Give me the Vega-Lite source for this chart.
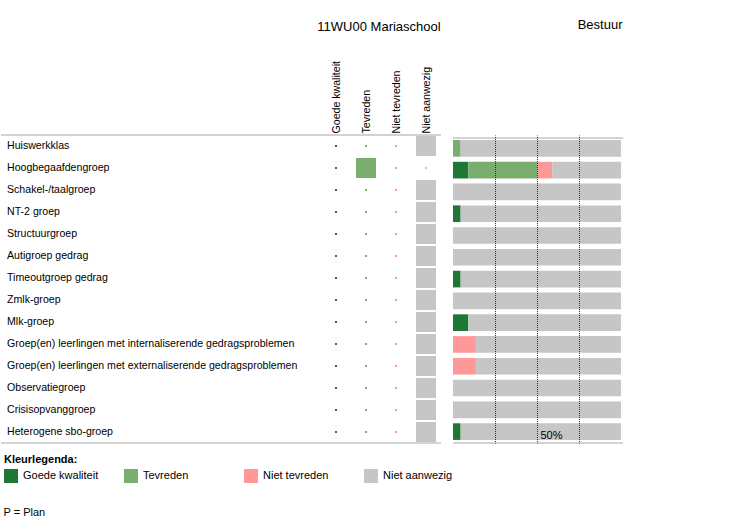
{
  "$schema": "https://vega.github.io/schema/vega-lite/v6.json",
  "padding": {"left": 0, "top": 19, "right": 0, "bottom": 0},
  "config": {
    "font": "Liberation Sans",
    "view": {"stroke": null},
    "title": {"fontSize": 13, "fontWeight": "normal", "color": "black", "font": "Liberation Sans"},
    "legend": {
      "orient": "none", "legendX": 3, "legendY": 319, "direction": "horizontal", "columns": 4,
      "gridAlign": "all", "columnPadding": 25, "padding": 0,
      "symbolType": "square", "symbolSize": 196, "symbolStrokeWidth": 0, "symbolOpacity": 1,
      "labelFontSize": 11, "labelColor": "black", "labelOffset": 5, "labelFont": "Liberation Sans",
      "titleFontSize": 11, "titleFontWeight": "bold", "titleColor": "black", "titlePadding": 4, "titleFont": "Liberation Sans"
    }
  },
  "title": {"text": "P = Plan", "orient": "bottom", "anchor": "start", "fontSize": 11, "offset": 24, "dx": 3},
  "datasets": {
    "oordelen": [
      {"oordeel": "Goede kwaliteit", "volgorde": 1},
      {"oordeel": "Tevreden", "volgorde": 2},
      {"oordeel": "Niet tevreden", "volgorde": 3},
      {"oordeel": "Niet aanwezig", "volgorde": 4}
    ],
    "groepen": [
      {"groep": "Huiswerkklas"},
      {"groep": "Hoogbegaafdengroep"},
      {"groep": "Schakel-/taalgroep"},
      {"groep": "NT-2 groep"},
      {"groep": "Structuurgroep"},
      {"groep": "Autigroep gedrag"},
      {"groep": "Timeoutgroep gedrag"},
      {"groep": "Zmlk-groep"},
      {"groep": "Mlk-groep"},
      {"groep": "Groep(en) leerlingen met internaliserende gedragsproblemen"},
      {"groep": "Groep(en) leerlingen met externaliserende gedragsproblemen"},
      {"groep": "Observatiegroep"},
      {"groep": "Crisisopvanggroep"},
      {"groep": "Heterogene sbo-groep"}
    ],
    "school": [
      {"groep": "Huiswerkklas", "oordeel": "Goede kwaliteit", "waarde": 0},
      {"groep": "Huiswerkklas", "oordeel": "Tevreden", "waarde": 0},
      {"groep": "Huiswerkklas", "oordeel": "Niet tevreden", "waarde": 0},
      {"groep": "Huiswerkklas", "oordeel": "Niet aanwezig", "waarde": 1},
      {"groep": "Hoogbegaafdengroep", "oordeel": "Goede kwaliteit", "waarde": 0},
      {"groep": "Hoogbegaafdengroep", "oordeel": "Tevreden", "waarde": 1},
      {"groep": "Hoogbegaafdengroep", "oordeel": "Niet tevreden", "waarde": 0},
      {"groep": "Hoogbegaafdengroep", "oordeel": "Niet aanwezig", "waarde": 0},
      {"groep": "Schakel-/taalgroep", "oordeel": "Goede kwaliteit", "waarde": 0},
      {"groep": "Schakel-/taalgroep", "oordeel": "Tevreden", "waarde": 0},
      {"groep": "Schakel-/taalgroep", "oordeel": "Niet tevreden", "waarde": 0},
      {"groep": "Schakel-/taalgroep", "oordeel": "Niet aanwezig", "waarde": 1},
      {"groep": "NT-2 groep", "oordeel": "Goede kwaliteit", "waarde": 0},
      {"groep": "NT-2 groep", "oordeel": "Tevreden", "waarde": 0},
      {"groep": "NT-2 groep", "oordeel": "Niet tevreden", "waarde": 0},
      {"groep": "NT-2 groep", "oordeel": "Niet aanwezig", "waarde": 1},
      {"groep": "Structuurgroep", "oordeel": "Goede kwaliteit", "waarde": 0},
      {"groep": "Structuurgroep", "oordeel": "Tevreden", "waarde": 0},
      {"groep": "Structuurgroep", "oordeel": "Niet tevreden", "waarde": 0},
      {"groep": "Structuurgroep", "oordeel": "Niet aanwezig", "waarde": 1},
      {"groep": "Autigroep gedrag", "oordeel": "Goede kwaliteit", "waarde": 0},
      {"groep": "Autigroep gedrag", "oordeel": "Tevreden", "waarde": 0},
      {"groep": "Autigroep gedrag", "oordeel": "Niet tevreden", "waarde": 0},
      {"groep": "Autigroep gedrag", "oordeel": "Niet aanwezig", "waarde": 1},
      {"groep": "Timeoutgroep gedrag", "oordeel": "Goede kwaliteit", "waarde": 0},
      {"groep": "Timeoutgroep gedrag", "oordeel": "Tevreden", "waarde": 0},
      {"groep": "Timeoutgroep gedrag", "oordeel": "Niet tevreden", "waarde": 0},
      {"groep": "Timeoutgroep gedrag", "oordeel": "Niet aanwezig", "waarde": 1},
      {"groep": "Zmlk-groep", "oordeel": "Goede kwaliteit", "waarde": 0},
      {"groep": "Zmlk-groep", "oordeel": "Tevreden", "waarde": 0},
      {"groep": "Zmlk-groep", "oordeel": "Niet tevreden", "waarde": 0},
      {"groep": "Zmlk-groep", "oordeel": "Niet aanwezig", "waarde": 1},
      {"groep": "Mlk-groep", "oordeel": "Goede kwaliteit", "waarde": 0},
      {"groep": "Mlk-groep", "oordeel": "Tevreden", "waarde": 0},
      {"groep": "Mlk-groep", "oordeel": "Niet tevreden", "waarde": 0},
      {"groep": "Mlk-groep", "oordeel": "Niet aanwezig", "waarde": 1},
      {"groep": "Groep(en) leerlingen met internaliserende gedragsproblemen", "oordeel": "Goede kwaliteit", "waarde": 0},
      {"groep": "Groep(en) leerlingen met internaliserende gedragsproblemen", "oordeel": "Tevreden", "waarde": 0},
      {"groep": "Groep(en) leerlingen met internaliserende gedragsproblemen", "oordeel": "Niet tevreden", "waarde": 0},
      {"groep": "Groep(en) leerlingen met internaliserende gedragsproblemen", "oordeel": "Niet aanwezig", "waarde": 1},
      {"groep": "Groep(en) leerlingen met externaliserende gedragsproblemen", "oordeel": "Goede kwaliteit", "waarde": 0},
      {"groep": "Groep(en) leerlingen met externaliserende gedragsproblemen", "oordeel": "Tevreden", "waarde": 0},
      {"groep": "Groep(en) leerlingen met externaliserende gedragsproblemen", "oordeel": "Niet tevreden", "waarde": 0},
      {"groep": "Groep(en) leerlingen met externaliserende gedragsproblemen", "oordeel": "Niet aanwezig", "waarde": 1},
      {"groep": "Observatiegroep", "oordeel": "Goede kwaliteit", "waarde": 0},
      {"groep": "Observatiegroep", "oordeel": "Tevreden", "waarde": 0},
      {"groep": "Observatiegroep", "oordeel": "Niet tevreden", "waarde": 0},
      {"groep": "Observatiegroep", "oordeel": "Niet aanwezig", "waarde": 1},
      {"groep": "Crisisopvanggroep", "oordeel": "Goede kwaliteit", "waarde": 0},
      {"groep": "Crisisopvanggroep", "oordeel": "Tevreden", "waarde": 0},
      {"groep": "Crisisopvanggroep", "oordeel": "Niet tevreden", "waarde": 0},
      {"groep": "Crisisopvanggroep", "oordeel": "Niet aanwezig", "waarde": 1},
      {"groep": "Heterogene sbo-groep", "oordeel": "Goede kwaliteit", "waarde": 0},
      {"groep": "Heterogene sbo-groep", "oordeel": "Tevreden", "waarde": 0},
      {"groep": "Heterogene sbo-groep", "oordeel": "Niet tevreden", "waarde": 0},
      {"groep": "Heterogene sbo-groep", "oordeel": "Niet aanwezig", "waarde": 1}
    ],
    "bestuur": [
      {"groep": "Huiswerkklas", "oordeel": "Tevreden", "aandeel": 0.04545},
      {"groep": "Huiswerkklas", "oordeel": "Niet aanwezig", "aandeel": 0.95455},
      {"groep": "Hoogbegaafdengroep", "oordeel": "Goede kwaliteit", "aandeel": 0.09091},
      {"groep": "Hoogbegaafdengroep", "oordeel": "Tevreden", "aandeel": 0.40909},
      {"groep": "Hoogbegaafdengroep", "oordeel": "Niet tevreden", "aandeel": 0.09091},
      {"groep": "Hoogbegaafdengroep", "oordeel": "Niet aanwezig", "aandeel": 0.40909},
      {"groep": "Schakel-/taalgroep", "oordeel": "Niet aanwezig", "aandeel": 1},
      {"groep": "NT-2 groep", "oordeel": "Goede kwaliteit", "aandeel": 0.04545},
      {"groep": "NT-2 groep", "oordeel": "Niet aanwezig", "aandeel": 0.95455},
      {"groep": "Structuurgroep", "oordeel": "Niet aanwezig", "aandeel": 1},
      {"groep": "Autigroep gedrag", "oordeel": "Niet aanwezig", "aandeel": 1},
      {"groep": "Timeoutgroep gedrag", "oordeel": "Goede kwaliteit", "aandeel": 0.04545},
      {"groep": "Timeoutgroep gedrag", "oordeel": "Niet aanwezig", "aandeel": 0.95455},
      {"groep": "Zmlk-groep", "oordeel": "Niet aanwezig", "aandeel": 1},
      {"groep": "Mlk-groep", "oordeel": "Goede kwaliteit", "aandeel": 0.09091},
      {"groep": "Mlk-groep", "oordeel": "Niet aanwezig", "aandeel": 0.90909},
      {"groep": "Groep(en) leerlingen met internaliserende gedragsproblemen", "oordeel": "Niet tevreden", "aandeel": 0.13636},
      {"groep": "Groep(en) leerlingen met internaliserende gedragsproblemen", "oordeel": "Niet aanwezig", "aandeel": 0.86364},
      {"groep": "Groep(en) leerlingen met externaliserende gedragsproblemen", "oordeel": "Niet tevreden", "aandeel": 0.13636},
      {"groep": "Groep(en) leerlingen met externaliserende gedragsproblemen", "oordeel": "Niet aanwezig", "aandeel": 0.86364},
      {"groep": "Observatiegroep", "oordeel": "Niet aanwezig", "aandeel": 1},
      {"groep": "Crisisopvanggroep", "oordeel": "Niet aanwezig", "aandeel": 1},
      {"groep": "Heterogene sbo-groep", "oordeel": "Goede kwaliteit", "aandeel": 0.04545},
      {"groep": "Heterogene sbo-groep", "oordeel": "Niet aanwezig", "aandeel": 0.95455}
    ]
  },
  "hconcat": [
    {
      "width": 320,
      "height": 308,
      "layer": [
        {
          "data": {"name": "groepen"},
          "mark": {"type": "text", "align": "left", "baseline": "middle", "dx": 6, "fontSize": 10.6, "color": "black"},
          "encoding": {
            "x": {"datum": 0, "type": "quantitative", "scale": {"domain": [0, 1]}, "axis": null},
            "y": {"field": "groep", "type": "nominal", "axis": null, "scale": {"domain": ["Huiswerkklas", "Hoogbegaafdengroep", "Schakel-/taalgroep", "NT-2 groep", "Structuurgroep", "Autigroep gedrag", "Timeoutgroep gedrag", "Zmlk-groep", "Mlk-groep", "Groep(en) leerlingen met internaliserende gedragsproblemen", "Groep(en) leerlingen met externaliserende gedragsproblemen", "Observatiegroep", "Crisisopvanggroep", "Heterogene sbo-groep"], "paddingInner": 0, "paddingOuter": 0}},
            "text": {"field": "groep", "type": "nominal"}
          }
        },
        {
          "data": {"values": [{"groep": "Huiswerkklas"}]},
          "mark": {"type": "rule", "color": "#a6a6a6", "strokeWidth": 1},
          "encoding": {"y": {"field": "groep", "type": "nominal", "bandPosition": 0}}
        },
        {
          "data": {"values": [{"groep": "Heterogene sbo-groep"}]},
          "mark": {"type": "rule", "color": "#a6a6a6", "strokeWidth": 1},
          "encoding": {"y": {"field": "groep", "type": "nominal", "bandPosition": 1}}
        }
      ]
    },
    {
      "width": 120,
      "height": 308,
      "title": {"text": "11WU00 Mariaschool", "anchor": "middle", "offset": 27, "dx": -2},
      "layer": [
        {
          "data": {"name": "school"},
          "mark": {"type": "point", "shape": "square", "filled": true, "opacity": 1, "strokeWidth": 0},
          "encoding": {
            "x": {"field": "oordeel", "type": "nominal", "scale": {"domain": ["Goede kwaliteit", "Tevreden", "Niet tevreden", "Niet aanwezig"], "paddingInner": 0, "paddingOuter": 0},
              "axis": {"orient": "top", "title": null, "labelAngle": -90, "labelAlign": "left", "labelBaseline": "middle", "labelPadding": 2, "ticks": false, "tickSize": 0, "domain": false, "labelFontSize": 10.6, "labelColor": "black", "labelFont": "Liberation Sans"}},
            "y": {"field": "groep", "type": "nominal", "axis": null, "scale": {"domain": ["Huiswerkklas", "Hoogbegaafdengroep", "Schakel-/taalgroep", "NT-2 groep", "Structuurgroep", "Autigroep gedrag", "Timeoutgroep gedrag", "Zmlk-groep", "Mlk-groep", "Groep(en) leerlingen met internaliserende gedragsproblemen", "Groep(en) leerlingen met externaliserende gedragsproblemen", "Observatiegroep", "Crisisopvanggroep", "Heterogene sbo-groep"], "paddingInner": 0, "paddingOuter": 0}},
            "size": {"field": "waarde", "type": "quantitative", "scale": {"domain": [0, 1], "range": [4, 400]}, "legend": null},
            "color": {"field": "oordeel", "type": "nominal", "scale": {"domain": ["Goede kwaliteit", "Tevreden", "Niet tevreden", "Niet aanwezig"], "range": ["#1e7735", "#7aae6e", "#ff9999", "#c6c6c6"]}, "legend": {"title": "Kleurlegenda:"}}
          }
        },
        {
          "data": {"values": [{"groep": "Huiswerkklas"}]},
          "mark": {"type": "rule", "color": "#a6a6a6", "strokeWidth": 1},
          "encoding": {"y": {"field": "groep", "type": "nominal", "bandPosition": 0}}
        },
        {
          "data": {"values": [{"groep": "Heterogene sbo-groep"}]},
          "mark": {"type": "rule", "color": "#a6a6a6", "strokeWidth": 1},
          "encoding": {"y": {"field": "groep", "type": "nominal", "bandPosition": 1}}
        }
      ]
    },
    {
      "width": 182,
      "height": 308,
      "title": {"text": "Bestuur", "anchor": "end", "offset": 103, "dx": -1},
      "layer": [
        {
          "data": {"name": "bestuur"},
          "transform": [
            {"lookup": "oordeel", "from": {"data": {"name": "oordelen"}, "key": "oordeel", "fields": ["volgorde"]}}
          ],
          "mark": {"type": "bar", "strokeWidth": 0},
          "encoding": {
            "x": {"field": "aandeel", "type": "quantitative", "stack": "zero", "scale": {"domain": [0, 1], "range": [12, 180], "nice": false},
              "axis": {"orient": "bottom", "values": [0.25, 0.5, 0.75], "grid": true, "gridColor": "#333333", "gridDash": [1, 1], "gridDashOffset": 0.5, "gridWidth": 1, "ticks": false, "domain": false, "title": null, "labelExpr": "datum.value == 0.5 ? '50%' : ''", "labelAlign": "left", "labelOffset": 3, "labelPadding": -14, "labelFontSize": 11, "labelColor": "black", "labelOverlap": false, "labelFlush": false, "zindex": 1}},
            "y": {"field": "groep", "type": "nominal", "axis": null, "scale": {"domain": ["Huiswerkklas", "Hoogbegaafdengroep", "Schakel-/taalgroep", "NT-2 groep", "Structuurgroep", "Autigroep gedrag", "Timeoutgroep gedrag", "Zmlk-groep", "Mlk-groep", "Groep(en) leerlingen met internaliserende gedragsproblemen", "Groep(en) leerlingen met externaliserende gedragsproblemen", "Observatiegroep", "Crisisopvanggroep", "Heterogene sbo-groep"], "paddingInner": 0.2356, "paddingOuter": 0.1853, "align": 0.62}},
            "color": {"field": "oordeel", "type": "nominal", "scale": {"domain": ["Goede kwaliteit", "Tevreden", "Niet tevreden", "Niet aanwezig"], "range": ["#1e7735", "#7aae6e", "#ff9999", "#c6c6c6"]}, "legend": {"title": "Kleurlegenda:"}},
            "order": {"field": "volgorde", "type": "quantitative", "sort": "ascending"}
          }
        },
        {
          "layer": [
            {
              "data": {"values": [{"groep": "Huiswerkklas"}]},
              "mark": {"type": "rule", "color": "#a6a6a6", "strokeWidth": 1},
              "encoding": {
                "x": {"datum": 0, "type": "quantitative"},
                "x2": {"datum": 1.012},
                "y": {"field": "groep", "type": "nominal", "bandPosition": 0, "axis": null, "scale": {"domain": ["Huiswerkklas", "Hoogbegaafdengroep", "Schakel-/taalgroep", "NT-2 groep", "Structuurgroep", "Autigroep gedrag", "Timeoutgroep gedrag", "Zmlk-groep", "Mlk-groep", "Groep(en) leerlingen met internaliserende gedragsproblemen", "Groep(en) leerlingen met externaliserende gedragsproblemen", "Observatiegroep", "Crisisopvanggroep", "Heterogene sbo-groep"], "paddingInner": 0, "paddingOuter": 0.0689, "align": 1}}
              }
            },
            {
              "data": {"values": [{"groep": "Heterogene sbo-groep"}]},
              "mark": {"type": "rule", "color": "#a6a6a6", "strokeWidth": 1},
              "encoding": {
                "x": {"datum": 0, "type": "quantitative"},
                "x2": {"datum": 1.012},
                "y": {"field": "groep", "type": "nominal", "bandPosition": 1}
              }
            }
          ]
        }
      ],
      "resolve": {"scale": {"y": "independent"}}
    }
  ],
  "spacing": 0,
  "bounds": "flush",
  "resolve": {"scale": {"x": "independent", "y": "independent", "color": "shared"}}
}
